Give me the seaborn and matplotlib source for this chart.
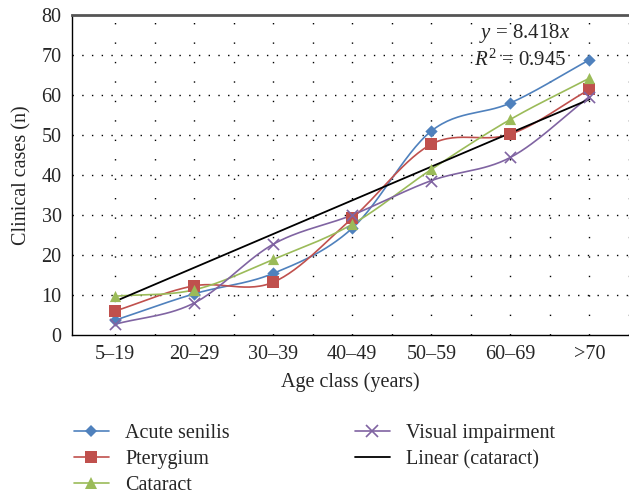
"""
Clinical cases by age class, with smoothed lines and a linear trend for cataract
"""

import numpy as np
import pandas as pd
import matplotlib
matplotlib.use('Agg')
import matplotlib.pyplot as plt
import seaborn as sns

# Data
age_classes = ['5–19', '20–29', '30–39', '40–49', '50–59', '60–69', '>70']
acute_senilis = [3.7, 10.3, 15.4, 26.7, 51.0, 58.0, 68.8]
pterygium = [6.0, 12.3, 13.2, 29.2, 47.7, 50.2, 61.4]
cataract = [9.7, 11.3, 18.9, 27.7, 41.4, 53.9, 64.2]
visual_impairment = [2.7, 8.0, 22.7, 30.0, 38.6, 44.4, 59.6]
trend_slope = 8.418
trend_r2 = 0.945

series_names = ['Acute senilis', 'Pterygium', 'Cataract', 'Visual impairment']
series_values = [acute_senilis, pterygium, cataract, visual_impairment]
colors = ['#4F81BD', '#C0504D', '#9BBB59', '#8064A2']
markers = ['D', 's', '^', 'x']
marker_sizes = [7, 10, 9, 9]


def smooth_curve(y, steps=30):
    """Catmull-Rom style smoothing, like Excel's smoothed lines"""
    y = np.asarray(y, dtype=float)
    pts = np.concatenate([[2 * y[0] - y[1]], y, [2 * y[-1] - y[-2]]])
    xs, ys = [], []
    for i in range(len(y) - 1):
        p0, p1, p2, p3 = pts[i], pts[i + 1], pts[i + 2], pts[i + 3]
        t = np.linspace(0, 1, steps, endpoint=False)
        yy = 0.5 * ((2 * p1) + (-p0 + p2) * t
                    + (2 * p0 - 5 * p1 + 4 * p2 - p3) * t ** 2
                    + (-p0 + 3 * p1 - 3 * p2 + p3) * t ** 3)
        xs.append(i + t)
        ys.append(yy)
    xs.append([len(y) - 1])
    ys.append([y[-1]])
    return np.concatenate(xs), np.concatenate(ys)


sns.set_style('white')
plt.rcParams['font.family'] = ['Liberation Serif', 'DejaVu Serif']
plt.rcParams['mathtext.fontset'] = 'custom'
plt.rcParams['mathtext.rm'] = 'Liberation Serif'
plt.rcParams['mathtext.it'] = 'Liberation Serif:italic'

fig = plt.figure(figsize=(6.29, 4.95), dpi=100)
ax = fig.add_axes([0.1145, 0.3232, 0.8855, 0.6465])

x_idx = np.arange(len(age_classes))

handles = []
for name, vals, col, mk, ms in zip(series_names, series_values, colors, markers, marker_sizes):
    sx, sy = smooth_curve(vals)
    curve = pd.DataFrame({'x': sx, 'y': sy})
    sns.lineplot(data=curve, x='x', y='y', color=col, lw=1.2, ax=ax, sort=False)
    pts = pd.DataFrame({'x': x_idx, 'y': vals})
    sns.scatterplot(data=pts, x='x', y='y', color=col, marker=mk, s=ms ** 2 * 0.8,
                    linewidth=1.2 if mk == 'x' else 0, edgecolor=col, ax=ax, zorder=3)
    handles.append(plt.Line2D([], [], color=col, marker=mk, markersize=ms * 0.9,
                              lw=1.2, markeredgewidth=1.2 if mk == 'x' else 0))

# Linear trend through origin (x = 1..7)
trend = pd.DataFrame({'x': x_idx, 'y': trend_slope * (x_idx + 1)})
sns.lineplot(data=trend, x='x', y='y', color='black', lw=1.3, ax=ax)
handles.append(plt.Line2D([], [], color='black', lw=1.3))

ax.text(4.6, 75.3, r'$y$ = 8.418$x$', fontsize=15, ha='left', va='center')
ax.text(4.54, 68.8, r'$R^2$ = %.3f' % trend_r2, fontsize=15, ha='left', va='center')

ax.set_xlim(-0.545, 6.5)
ax.set_ylim(0, 80)
ax.set_xticks(x_idx)
ax.set_xticklabels(age_classes)
ax.set_yticks(np.arange(0, 81, 10))
ax.tick_params(axis='both', labelsize=14.5, length=4, color='black', direction='out')
ax.tick_params(axis='x', length=0, pad=7)
ax.set_xlabel('Age class (years)', fontsize=14.5, labelpad=6)
ax.set_ylabel('Clinical cases (n)', fontsize=14.5, labelpad=7)

# Dotted grids
for yv in np.arange(10, 80, 10):
    ax.axhline(yv, color='black', lw=1.0, ls=(0, (1, 6)), zorder=0)
for xv in np.arange(0, 6.6, 0.5):
    ax.axvline(xv, color='black', lw=1.0, ls=(0, (1, 13)), zorder=0)

for side in ['left', 'bottom']:
    ax.spines[side].set_color('black')
    ax.spines[side].set_linewidth(1.0)
ax.spines['top'].set_color('#555555')
ax.spines['top'].set_linewidth(2.0)
ax.spines['right'].set_visible(False)

fig.legend(handles, series_names + ['Linear (cataract)'], ncol=2,
           loc='upper left', bbox_to_anchor=(0.098, 0.168), frameon=False,
           fontsize=14.5, handlelength=1.75, columnspacing=6.2, labelspacing=0.34,
           handletextpad=0.8, borderaxespad=0.2)

plt.savefig('out.png', dpi=100)
plt.close()
